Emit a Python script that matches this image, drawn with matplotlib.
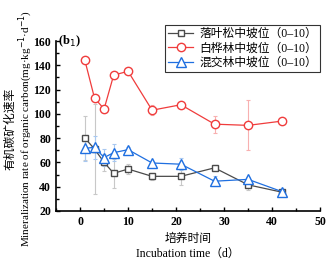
import matplotlib.pyplot as plt
from matplotlib.ticker import MultipleLocator

plt.rcParams['font.family'] = ['Liberation Serif', 'Noto Sans CJK SC']
plt.rcParams['font.size'] = 8

dias = [1, 3, 5, 7, 10, 15, 21, 28, 35, 42]

luoye = [80, 71, 60, 51, 54.5, 48.5, 48.5, 55.5, 41.5, 35.5]
luoye_err = [18, 37, 7, 12, 4, 3, 7, 2, 4, 1]

baihua = [144, 113, 104, 132, 135, 103, 107.5, 91.5, 90.5, 94]
baihua_err = [1, 1, 1, 1, 1, 4, 1, 7, 20.5, 1]

hunjiao = [71.5, 72.5, 64, 68, 70.5, 59.5, 58.5, 44.5, 46, 36]
hunjiao_err = [10, 9.5, 7, 7, 2, 2, 5, 4, 2, 1]

nombres = ['落叶松中坡位（0–10）', '白桦林中坡位（0–10）', '混交林中坡位（0–10）']

fig = plt.figure(figsize=(3.3, 2.63), dpi=100)
ax = fig.add_axes([0.17, 0.198, 0.8, 0.646])

series = [
    (luoye, luoye_err, '#4a4a4a', '#c8c8c8', 's', 5),
    (baihua, baihua_err, '#f03c3c', '#f8b0b0', 'o', 6),
    (hunjiao, hunjiao_err, '#1f6fe0', '#a8c8f0', '^', 6.5),
]
for (y, e, c, ce, m, ms), nombre in zip(series, nombres):
    ax.errorbar(dias, y, yerr=e, fmt='none', ecolor=ce, elinewidth=0.8,
                capsize=1.5, capthick=0.8, zorder=1)
    ax.plot(dias, y, color=c, marker=m, markersize=ms, markerfacecolor='white',
            markeredgecolor=c, markeredgewidth=1, linewidth=0.9, label=nombre, zorder=3)

ax.set_xlim(-5, 50)
ax.set_ylim(20, 160)
ax.xaxis.set_major_locator(MultipleLocator(10))
ax.xaxis.set_minor_locator(MultipleLocator(5))
ax.yaxis.set_major_locator(MultipleLocator(20))
ax.yaxis.set_minor_locator(MultipleLocator(10))
ax.tick_params(which='both', direction='in', width=1, labelsize=8.5)
ax.tick_params(which='major', length=3)
ax.tick_params(which='minor', length=2)
for s in ['top', 'right']:
    ax.spines[s].set_visible(False)
for s in ['left', 'bottom']:
    ax.spines[s].set_linewidth(1.2)
for lab in ax.get_xticklabels() + ax.get_yticklabels():
    lab.set_fontweight('bold')

ax.set_xlabel('培养时间\nIncubation time（d）', fontsize=8.5, linespacing=1.25)

# etiqueta del eje y en dos lineas separadas
fig.text(10 / 330, 0.51, '有机碳矿化速率', rotation=90, ha='center', va='center', fontsize=8.5)
fig.text(26 / 330, 0.51, 'Mineralization rate of organic carbon(mg·kg$^{-1}$·d$^{-1}$)',
         rotation=90, ha='center', va='center', fontsize=8)

ax.text(-4.6, 160, '(b$_1$)', fontsize=9, va='center', ha='left', fontweight='bold')

leg = ax.legend(loc='upper right', bbox_to_anchor=(1.0, 1.094), frameon=True, fancybox=False,
                edgecolor='black', fontsize=8.5, handlelength=2.2, borderpad=0.25,
                labelspacing=0.2, handletextpad=0.5, borderaxespad=0)
leg.get_frame().set_linewidth(0.8)

plt.savefig('out.png', dpi=100)
